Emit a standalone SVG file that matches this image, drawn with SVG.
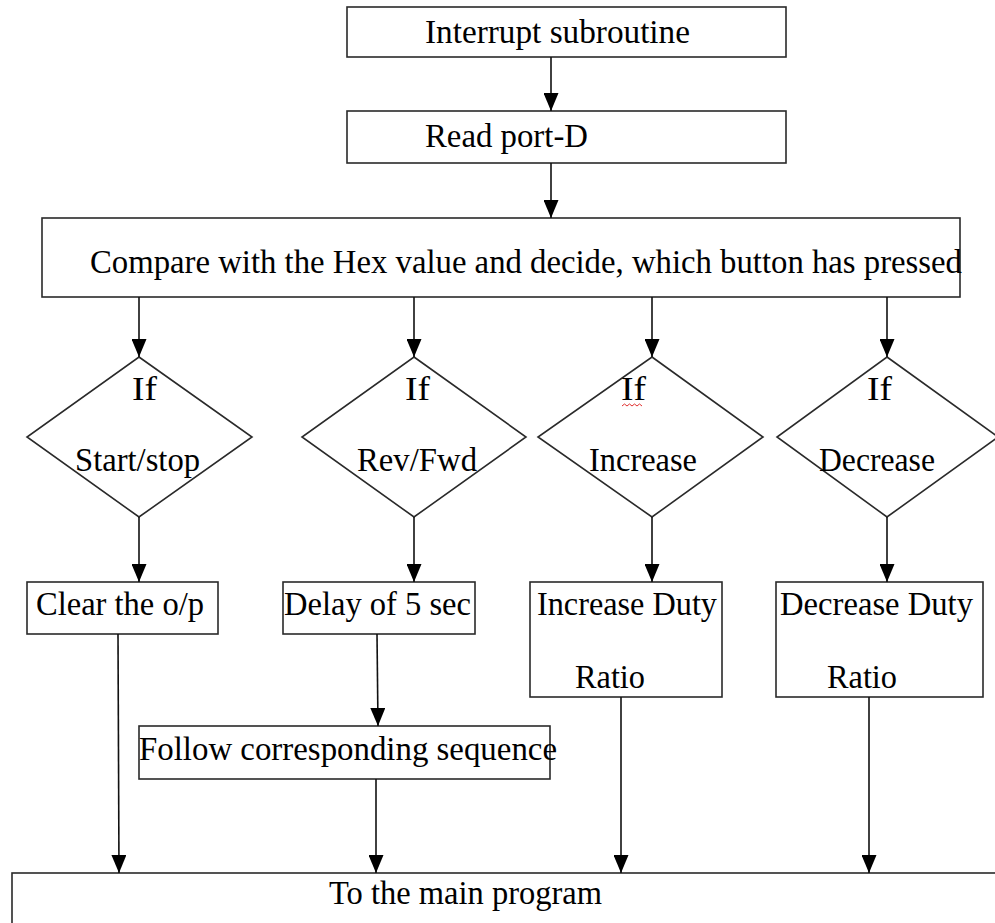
<svg xmlns="http://www.w3.org/2000/svg" width="995" height="923" viewBox="0 0 995 923">
<style>
.box{fill:#fff;stroke:#2a2a2a;stroke-width:1.6}
.t{font-family:"Liberation Serif","Times New Roman",serif;font-size:33px;fill:#000}
.c{fill:none;stroke:#111;stroke-width:1.6}
</style>
<defs>
<marker id="ah" viewBox="0 0 18 15" refX="18" refY="7.5" markerWidth="18" markerHeight="15" markerUnits="userSpaceOnUse" orient="auto">
<path d="M0,0 L18,7.5 L0,15 z" fill="#000"/>
</marker>
</defs>
<rect width="995" height="923" fill="#fff"/>
<g id="n-interrupt"><rect class="box" x="347" y="7" width="439" height="50"/><text class="t" x="425" y="43" textLength="265" lengthAdjust="spacingAndGlyphs">Interrupt subroutine</text></g>
<g id="n-read"><rect class="box" x="347" y="111" width="439" height="52"/><text class="t" x="425" y="147" textLength="163" lengthAdjust="spacingAndGlyphs">Read port-D</text></g>
<g id="n-compare"><rect class="box" x="42" y="218" width="918" height="79"/><text class="t" x="90" y="273" textLength="872" lengthAdjust="spacingAndGlyphs">Compare with the Hex value and decide, which button has pressed</text></g>
<g id="n-d1"><polygon class="box" points="139,357 252,437 139,517 27,437"/><text class="t" x="132" y="400" textLength="25" lengthAdjust="spacingAndGlyphs">If</text><text class="t" x="75" y="471" textLength="125" lengthAdjust="spacingAndGlyphs">Start/stop</text></g>
<g id="n-d2"><polygon class="box" points="414,357 526,437 414,517 302,437"/><text class="t" x="405" y="400" textLength="25" lengthAdjust="spacingAndGlyphs">If</text><text class="t" x="357" y="471" textLength="120" lengthAdjust="spacingAndGlyphs">Rev/Fwd</text></g>
<g id="n-d3"><polygon class="box" points="652,357 763,437 652,517 538,437"/><text class="t" x="621" y="400" textLength="25" lengthAdjust="spacingAndGlyphs">If</text><path d="M622,406 l2.5,-2 l2.5,2 l2.5,-2 l2.5,2 l2.5,-2 l2.5,2 l2.5,-2 l2.5,2" fill="none" stroke="#e03030" stroke-width="1"/><text class="t" x="589" y="471" textLength="108" lengthAdjust="spacingAndGlyphs">Increase</text></g>
<g id="n-d4"><polygon class="box" points="887,357 998,437 887,517 777,437"/><text class="t" x="867" y="400" textLength="25" lengthAdjust="spacingAndGlyphs">If</text><text class="t" x="819" y="471" textLength="116" lengthAdjust="spacingAndGlyphs">Decrease</text></g>
<g id="n-clear"><rect class="box" x="27" y="582" width="191" height="52"/><text class="t" x="36" y="615" textLength="168" lengthAdjust="spacingAndGlyphs">Clear the o/p</text></g>
<g id="n-delay"><rect class="box" x="283" y="582" width="192" height="52"/><text class="t" x="284" y="615" textLength="187" lengthAdjust="spacingAndGlyphs">Delay of 5 sec</text></g>
<g id="n-incduty"><rect class="box" x="530" y="582" width="192" height="115"/><text class="t" x="537" y="615" textLength="180" lengthAdjust="spacingAndGlyphs">Increase Duty</text><text class="t" x="575" y="688" textLength="70" lengthAdjust="spacingAndGlyphs">Ratio</text></g>
<g id="n-decduty"><rect class="box" x="776" y="582" width="207" height="115"/><text class="t" x="780" y="615" textLength="193" lengthAdjust="spacingAndGlyphs">Decrease Duty</text><text class="t" x="827" y="688" textLength="70" lengthAdjust="spacingAndGlyphs">Ratio</text></g>
<g id="n-follow"><rect class="box" x="139" y="726" width="411" height="53"/><text class="t" x="139" y="760" textLength="418" lengthAdjust="spacingAndGlyphs">Follow corresponding sequence</text></g>
<g id="n-main"><rect class="box" x="12" y="873" width="1000" height="70"/><text class="t" x="329" y="904" textLength="273" lengthAdjust="spacingAndGlyphs">To the main program</text></g>
<g id="connectors">
<line class="c" x1="551" y1="57" x2="551" y2="111" marker-end="url(#ah)"/>
<line class="c" x1="551" y1="163" x2="551" y2="218" marker-end="url(#ah)"/>
<line class="c" x1="139" y1="297" x2="139" y2="357" marker-end="url(#ah)"/>
<line class="c" x1="414" y1="297" x2="414" y2="357" marker-end="url(#ah)"/>
<line class="c" x1="652" y1="297" x2="652" y2="357" marker-end="url(#ah)"/>
<line class="c" x1="887" y1="297" x2="887" y2="357" marker-end="url(#ah)"/>
<line class="c" x1="139" y1="517" x2="139" y2="582" marker-end="url(#ah)"/>
<line class="c" x1="414" y1="517" x2="414" y2="582" marker-end="url(#ah)"/>
<line class="c" x1="652" y1="517" x2="652" y2="582" marker-end="url(#ah)"/>
<line class="c" x1="887" y1="517" x2="887" y2="582" marker-end="url(#ah)"/>
<line class="c" x1="118" y1="634" x2="119" y2="873" marker-end="url(#ah)"/>
<line class="c" x1="377" y1="634" x2="378" y2="726" marker-end="url(#ah)"/>
<line class="c" x1="376" y1="779" x2="376" y2="873" marker-end="url(#ah)"/>
<line class="c" x1="621" y1="697" x2="621" y2="873" marker-end="url(#ah)"/>
<line class="c" x1="869" y1="697" x2="869" y2="873" marker-end="url(#ah)"/>
</g>
</svg>
